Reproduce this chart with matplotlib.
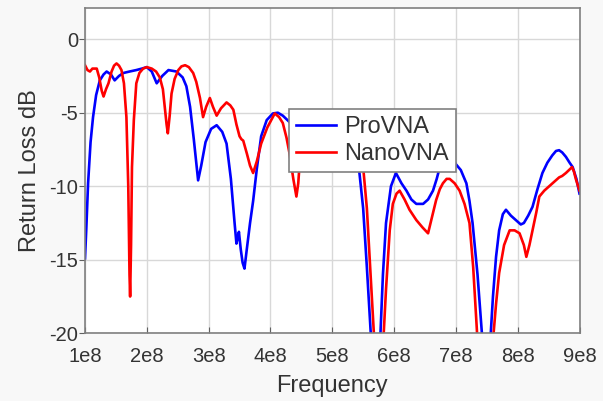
import matplotlib
matplotlib.use("Agg")
import matplotlib.pyplot as plt
import numpy as np

plt.rcParams['font.family'] = ['Liberation Sans', 'DejaVu Sans']

# ProVNA (blue) : frequency in units of 1e8 Hz, return loss dB
pro_f = [1.00, 1.02, 1.05, 1.09, 1.13, 1.18, 1.24, 1.30, 1.35, 1.42, 1.48, 1.55, 1.62, 1.72,
         1.83, 1.92, 2.00, 2.08, 2.16, 2.25, 2.35, 2.48, 2.58, 2.64, 2.70, 2.76, 2.83, 2.88,
         2.95, 3.04, 3.13, 3.22, 3.29, 3.36, 3.42, 3.45, 3.47, 3.49, 3.52, 3.55, 3.58, 3.62,
         3.67, 3.72, 3.78, 3.85, 3.94, 4.04, 4.12, 4.20, 4.30, 4.45, 4.65, 4.85, 5.05, 5.25,
         5.38, 5.44, 5.50, 5.56, 5.63, 5.70, 5.77, 5.82, 5.87, 5.95, 6.03, 6.12, 6.20, 6.28,
         6.36, 6.47, 6.55, 6.63, 6.69, 6.74, 6.80, 6.88, 6.95, 7.00, 7.08, 7.17, 7.22, 7.27,
         7.35, 7.43, 7.48, 7.55, 7.60, 7.65, 7.70, 7.76, 7.81, 7.89, 7.97, 8.05, 8.10, 8.17,
         8.24, 8.32, 8.40, 8.48, 8.56, 8.62, 8.67, 8.72, 8.78, 8.84, 8.89, 8.95, 9.00]
pro_db = [-14.9, -13.0, -9.8, -7.0, -5.3, -3.8, -2.8, -2.4, -2.2, -2.4, -2.8, -2.5, -2.3, -2.2,
          -2.1, -2.0, -1.9, -2.2, -3.0, -2.5, -2.1, -2.2, -2.6, -3.2, -4.6, -6.8, -9.6, -8.6,
          -7.0, -6.1, -5.85, -6.3, -7.1, -9.5, -12.5, -13.9, -13.5, -13.1, -14.3, -15.2, -15.6, -14.2,
          -12.5, -11.0, -8.8, -6.6, -5.5, -5.05, -5.0, -5.2, -5.6, -6.2, -6.0, -6.5, -7.2, -7.8,
          -8.3, -9.1, -11.5, -15.5, -20.5, -24.0, -21.0, -16.0, -12.5, -10.0, -9.1, -9.8, -10.3, -10.9,
          -11.2, -11.2, -10.9, -10.3, -9.5, -8.7, -7.9, -7.7, -8.1, -8.5, -8.9, -9.8, -11.0, -12.5,
          -16.0, -20.5, -23.0, -21.0, -17.5, -14.8, -13.0, -11.9, -11.6, -12.0, -12.3, -12.6, -12.5, -12.0,
          -11.4, -10.2, -9.1, -8.4, -7.9, -7.6, -7.55, -7.7, -8.0, -8.4, -8.7, -9.5, -10.5]

# NanoVNA (red)
nano_f = [1.00, 1.04, 1.08, 1.12, 1.19, 1.23, 1.27, 1.30, 1.34, 1.38, 1.43, 1.47, 1.51, 1.55,
          1.59, 1.63, 1.67, 1.70, 1.72, 1.73, 1.745, 1.76, 1.79, 1.83, 1.88, 1.94, 2.00, 2.08,
          2.15, 2.21, 2.26, 2.29, 2.32, 2.34, 2.37, 2.40, 2.45, 2.51, 2.56, 2.62, 2.68, 2.75,
          2.80, 2.86, 2.91, 2.96, 3.02, 3.07, 3.13, 3.20, 3.29, 3.35, 3.40, 3.45, 3.50, 3.53,
          3.56, 3.62, 3.67, 3.72, 3.78, 3.85, 3.95, 4.07, 4.14, 4.20, 4.26, 4.31, 4.37, 4.42,
          4.45, 4.47, 4.55, 4.75, 5.00, 5.25, 5.42, 5.50, 5.56, 5.62, 5.68, 5.75, 5.82, 5.87,
          5.93, 5.98, 6.04, 6.09, 6.17, 6.25, 6.36, 6.46, 6.55, 6.62, 6.68, 6.74, 6.79, 6.85,
          6.90, 6.98, 7.06, 7.14, 7.22, 7.28, 7.35, 7.45, 7.55, 7.60, 7.65, 7.70, 7.78, 7.87,
          7.95, 8.03, 8.10, 8.14, 8.19, 8.24, 8.30, 8.35, 8.43, 8.51, 8.59, 8.67, 8.72, 8.78,
          8.83, 8.88, 8.91, 8.94, 9.00]
nano_db = [-1.77, -2.1, -2.2, -2.0, -2.0, -2.6, -3.5, -3.9, -3.4, -3.0, -2.2, -1.8, -1.65, -1.8,
           -2.1, -3.0, -5.3, -10.0, -16.0, -17.5, -14.0, -8.7, -5.5, -3.0, -2.3, -2.0, -1.9, -2.0,
           -2.2, -2.6, -3.4, -4.6, -5.8, -6.4, -5.2, -3.7, -2.7, -2.1, -1.85, -1.77, -1.9, -2.3,
           -2.9, -4.0, -5.3, -4.6, -4.0, -4.6, -5.2, -4.7, -4.3, -4.5, -4.8, -5.8, -6.6, -6.8,
           -6.9, -7.8, -8.6, -9.1, -8.3, -7.1, -6.0, -5.05, -5.3, -5.7, -6.7, -7.8, -9.5, -10.7,
           -9.8, -8.6, -7.5, -7.0, -7.3, -7.8, -8.2, -8.7, -11.5, -16.0, -20.5, -24.0, -21.0, -17.0,
           -13.0, -11.2, -10.5, -10.3, -10.9, -11.6, -12.3, -12.8, -13.2, -12.0, -10.95, -10.2, -9.8, -9.5,
           -9.5, -9.8, -10.3, -11.2, -12.5, -15.5, -20.5, -24.0, -22.0, -20.5, -18.0, -15.9, -14.0, -13.0,
           -13.0, -13.2, -14.0, -14.8, -14.0, -13.0, -11.8, -10.7, -10.3, -10.0, -9.7, -9.4, -9.3, -9.1,
           -8.9, -8.7, -9.0, -9.5, -10.3]

x_ticks = [1e8, 2e8, 3e8, 4e8, 5e8, 6e8, 7e8, 8e8, 9e8]
x_labels = ['1e8', '2e8', '3e8', '4e8', '5e8', '6e8', '7e8', '8e8', '9e8']
y_ticks = [0, -5, -10, -15, -20]
y_labels = ['0', '-5', '-10', '-15', '-20']

fig = plt.figure(figsize=(6.03, 4.01), dpi=100, facecolor='#f8f8f8')
ax = fig.add_axes([85/603, 1-333.3/401, (579.5-85)/603, (333.3-8.3)/401])
ax.set_facecolor('white')

ax.plot(np.array(pro_f)*1e8, pro_db, color='#0000ff', lw=1.9, label='ProVNA')
ax.plot(np.array(nano_f)*1e8, nano_db, color='#ff0000', lw=1.9, label='NanoVNA')

ax.set_xlim(1e8, 9e8)
ax.set_ylim(-20, 2.1)
ax.set_xticks(x_ticks)
ax.set_xticklabels(x_labels)
ax.set_yticks(y_ticks)
ax.set_yticklabels(y_labels)
ax.grid(True, color='#d8d8d8', lw=1.0)
ax.set_axisbelow(True)
for s in ax.spines.values():
    s.set_color('#808080')
    s.set_linewidth(1.2)
ax.tick_params(axis='x', direction='in', length=4, color='#606060', labelsize=14.5,
               labelcolor='#333333', pad=10)
ax.tick_params(axis='y', direction='out', length=4, color='#606060', labelsize=14.5,
               labelcolor='#333333', pad=1)
ax.set_xlabel('Frequency', fontsize=17, color='#333333', labelpad=6)
ax.set_ylabel('Return Loss dB', fontsize=17, color='#333333', labelpad=6)

leg = ax.legend(loc='upper left', bbox_to_anchor=(289/603, 1-109/401),
                bbox_transform=fig.transFigure, fancybox=False, framealpha=1,
                edgecolor='#808080', fontsize=17, handlelength=1.7,
                borderaxespad=0, borderpad=0.3, labelspacing=0.2, handletextpad=0.35)
leg.get_frame().set_linewidth(1.2)
for t in leg.get_texts():
    t.set_color('#333333')

fig.savefig('out.png', dpi=100, facecolor=fig.get_facecolor())
